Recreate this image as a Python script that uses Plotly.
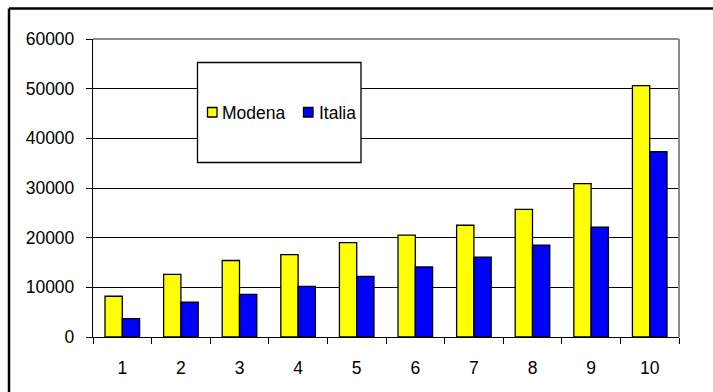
import plotly.graph_objects as go

# Values per decile
categories = ["1", "2", "3", "4", "5", "6", "7", "8", "9", "10"]
modena = [8200, 12600, 15400, 16600, 19000, 20500, 22500, 25700, 30900, 50600]
italia = [3700, 7000, 8600, 10200, 12200, 14100, 16100, 18500, 22100, 37300]
series_names = ["Modena", "Italia"]
series_colors = ["#FFFF00", "#0000FF"]

W, H = 713, 392
L, R, T, B = 93, 679, 39, 337  # plot area edges in pixels
pw, ph = R - L, B - T


def px(x):
    return (x - L) / pw


def py(y):
    return (B - y) / ph


FONT = dict(family="Liberation Sans, Arial, sans-serif", size=17.5, color="black")

fig = go.Figure()
for name, color, values in zip(series_names, series_colors, [modena, italia]):
    fig.add_trace(go.Bar(x=categories, y=values, name=name,
                         marker=dict(color=color, line=dict(color="black", width=1.3))))

shapes = [
    # outer frame (top and left edges)
    dict(type="line", xref="paper", yref="paper", x0=px(9), x1=px(W + 20), y0=py(8.5), y1=py(8.5),
         line=dict(color="black", width=2.5)),
    dict(type="line", xref="paper", yref="paper", x0=px(9), x1=px(9), y0=py(8.5), y1=py(H + 20),
         line=dict(color="black", width=2.5)),
    # plot area border, top and right
    dict(type="line", xref="paper", yref="paper", x0=0, x1=1, y0=1, y1=1,
         line=dict(color="#8c8c8c", width=2)),
    dict(type="line", xref="paper", yref="paper", x0=1, x1=1, y0=0, y1=1,
         line=dict(color="#8c8c8c", width=2)),
    # legend box
    dict(type="rect", xref="paper", yref="paper", x0=px(197.5), x1=px(361), y0=py(62.5), y1=py(162.5),
         line=dict(color="black", width=1.3), fillcolor="white", layer="above"),
]

# legend keys and labels
annotations = []
key_left = [207.5, 303.5]
label_left = [220, 317]
for name, color, kx, lx in zip(series_names, series_colors, key_left, label_left):
    shapes.append(dict(type="rect", xref="paper", yref="paper",
                       x0=px(kx), x1=px(kx + 9.5), y0=py(107.5), y1=py(117),
                       line=dict(color="black", width=1.3), fillcolor=color, layer="above"))
    annotations.append(dict(xref="paper", yref="paper", x=px(lx), y=py(113),
                            xanchor="left", yanchor="middle", text=name, showarrow=False,
                            font=FONT, xshift=0))

fig.update_layout(
    width=W, height=H,
    margin=dict(l=L, r=W - R, t=T, b=H - B, pad=0),
    paper_bgcolor="white", plot_bgcolor="white",
    font=FONT,
    barmode="group", bargap=0.41, bargroupgap=0,
    shapes=shapes,
    annotations=annotations,
    showlegend=False,
    xaxis=dict(type="category", showline=True, linecolor="black", linewidth=1.3,
               ticks="outside", ticklen=6, tickcolor="black", tickwidth=1.3,
               tickson="boundaries", showgrid=False, ticklabelstandoff=15,
               fixedrange=True),
    yaxis=dict(range=[0, 60000], dtick=10000, tickformat="d",
               showline=True, linecolor="black", linewidth=1.3,
               ticks="outside", ticklen=6, tickcolor="black", tickwidth=1.3,
               showgrid=True, gridcolor="black", gridwidth=1.2, zeroline=False,
               ticklabelstandoff=8, fixedrange=True),
)

fig.write_html("out.html")
